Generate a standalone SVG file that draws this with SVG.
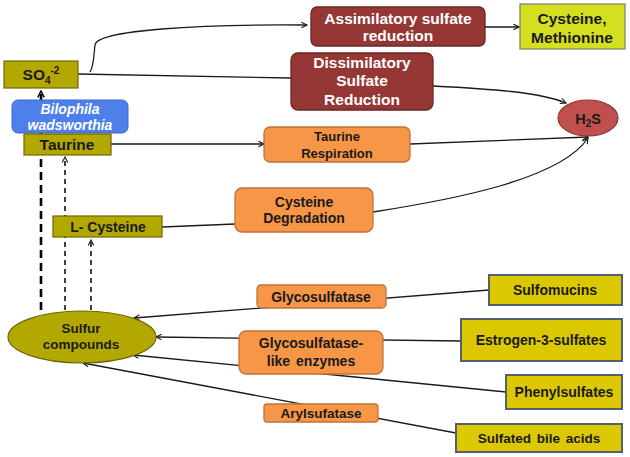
<svg xmlns="http://www.w3.org/2000/svg" width="630" height="457" viewBox="0 0 630 457">
<defs>
<marker id="arr" viewBox="0 0 10 10" refX="9" refY="5" markerWidth="7" markerHeight="7" orient="auto" markerUnits="userSpaceOnUse">
<path d="M1,1 L9,5 L1,9" fill="none" stroke="#1a1a1a" stroke-width="1.6"/>
</marker>
<marker id="arrB" viewBox="0 0 10 10" refX="9" refY="5" markerWidth="8" markerHeight="8" orient="auto" markerUnits="userSpaceOnUse">
<path d="M1,1 L9,5 L1,9" fill="none" stroke="#000" stroke-width="1.8"/>
</marker>
</defs>
<style>
text{font-family:"Liberation Sans",Arial,sans-serif;font-weight:bold;text-anchor:middle;fill:#1a1a1a}
.w{fill:#fff}
.olive{fill:#b3a800;stroke:#6e6800;stroke-width:1.2}
.orange{fill:#f79646;stroke:#c0733a;stroke-width:1.3}
.dred{fill:#953735;stroke:#6b2624;stroke-width:1.3}
.yel{fill:#dcc800;stroke:#55606e;stroke-width:2}
.ln{fill:none;stroke:#1a1a1a;stroke-width:1.3}
</style>
<rect width="630" height="457" fill="#fff"/>
<g id="connectors">
<path class="ln" d="M90,72 C94,66 94,52 95,45 C97,30 200,24 307,25" marker-end="url(#arr)"/>
<path class="ln" d="M485,27 L519,27" marker-end="url(#arr)"/>
<path class="ln" d="M78,74 L291,78"/>
<path class="ln" d="M433,86 C490,89 540,92 566,103" marker-end="url(#arr)"/>
<path class="ln" d="M111,144 L264,144" marker-end="url(#arr)"/>
<path class="ln" d="M410,144 L588,137" marker-end="url(#arr)"/>
<path class="ln" d="M162,227 L235,224"/>
<path class="ln" d="M373,212 C450,200 560,180 588,138" marker-end="url(#arr)"/>
<path d="M41,310 L41,91" fill="none" stroke="#000" stroke-width="2.6" stroke-dasharray="8,5" marker-end="url(#arrB)"/>
<path d="M65,310 L65,157" fill="none" stroke="#000" stroke-width="1.5" stroke-dasharray="5,4" marker-end="url(#arr)"/>
<path d="M91,310 L91,240" fill="none" stroke="#000" stroke-width="1.5" stroke-dasharray="5,4" marker-end="url(#arr)"/>
<path class="ln" d="M489,290 L134,318" marker-end="url(#arr)"/>
<path class="ln" d="M461,341 L156,337" marker-end="url(#arr)"/>
<path class="ln" d="M506,392 L133,355" marker-end="url(#arr)"/>
<path class="ln" d="M456,433 L83,363" marker-end="url(#arr)"/>
</g>
<g id="so4"><rect class="olive" x="4" y="61" width="74" height="27"/><text x="41" y="80" font-size="15.5">SO<tspan font-size="10" dy="4">4</tspan><tspan font-size="10" dy="-10">-2</tspan></text></g>
<g id="bilophila"><rect x="12" y="100" width="116" height="33" rx="6" fill="#4f7fea" stroke="#3d68c4" stroke-width="1"/><text class="w" x="70" y="114" font-size="14" font-style="italic">Bilophila</text><text class="w" x="70" y="130" font-size="14" font-style="italic">wadsworthia</text></g>
<g id="taurine"><rect class="olive" x="24" y="134" width="87" height="21"/><text x="67" y="150" font-size="15.5">Taurine</text></g>
<g id="lcysteine"><rect class="olive" x="53" y="216" width="109" height="21"/><text x="108" y="232" font-size="14">L- Cysteine</text></g>
<g id="assim"><rect class="dred" x="311" y="7" width="174" height="39" rx="6"/><text class="w" x="398" y="24" font-size="15.5">Assimilatory sulfate</text><text class="w" x="398" y="41" font-size="15.5">reduction</text></g>
<g id="cysmet"><rect x="520" y="4" width="105" height="45" fill="#d4df1f" stroke="#7e876a" stroke-width="1.3"/><text x="572" y="24" font-size="15.5">Cysteine,</text><text x="572" y="43" font-size="15.5">Methionine</text></g>
<g id="dissim"><rect class="dred" x="291" y="53" width="142" height="57" rx="7"/><text class="w" x="362" y="68" font-size="15.5">Dissimilatory</text><text class="w" x="362" y="86" font-size="15.5">Sulfate</text><text class="w" x="362" y="105" font-size="15.5">Reduction</text></g>
<g id="h2s"><ellipse cx="588" cy="118" rx="30" ry="18" fill="#c0504d" stroke="#8c3836" stroke-width="1.2"/><text x="588" y="124" font-size="14.5">H<tspan font-size="10" dy="3">2</tspan><tspan dy="-3">S</tspan></text></g>
<g id="taurresp"><rect class="orange" x="264" y="127" width="146" height="35" rx="6"/><text x="337" y="141" font-size="13">Taurine</text><text x="337" y="158" font-size="13">Respiration</text></g>
<g id="cysdeg"><rect class="orange" x="235" y="188" width="138" height="44" rx="7"/><text x="304" y="207" font-size="14">Cysteine</text><text x="304" y="223" font-size="14">Degradation</text></g>
<g id="sulfur"><ellipse cx="82" cy="337" rx="74" ry="26" fill="#b3a800" stroke="#6e6800" stroke-width="1.2"/><text x="81" y="333" font-size="13.5">Sulfur</text><text x="81" y="349" font-size="13.5">compounds</text></g>
<g id="glyco"><rect class="orange" x="257" y="285" width="129" height="23" rx="4"/><text x="321" y="302" font-size="14">Glycosulfatase</text></g>
<g id="glycolike"><rect class="orange" x="239" y="331" width="144" height="43" rx="7"/><text x="311" y="348" font-size="14">Glycosulfatase-</text><text x="311" y="366" font-size="14" word-spacing="2">like enzymes</text></g>
<g id="aryl"><rect class="orange" x="264" y="404" width="114" height="18" rx="3"/><text x="321" y="418" font-size="13.5">Arylsufatase</text></g>
<g id="sulfomucins"><rect class="yel" x="489" y="275" width="133" height="30"/><text x="555" y="295" font-size="14">Sulfomucins</text></g>
<g id="estrogen"><rect class="yel" x="461" y="319" width="161" height="42"/><text x="541" y="345" font-size="14">Estrogen-3-sulfates</text></g>
<g id="phenyl"><rect class="yel" x="506" y="375" width="116" height="34"/><text x="564" y="397" font-size="14">Phenylsulfates</text></g>
<g id="bile"><rect class="yel" x="456" y="424" width="166" height="28"/><text x="539" y="443" font-size="13.5" word-spacing="2">Sulfated bile acids</text></g>
</svg>
